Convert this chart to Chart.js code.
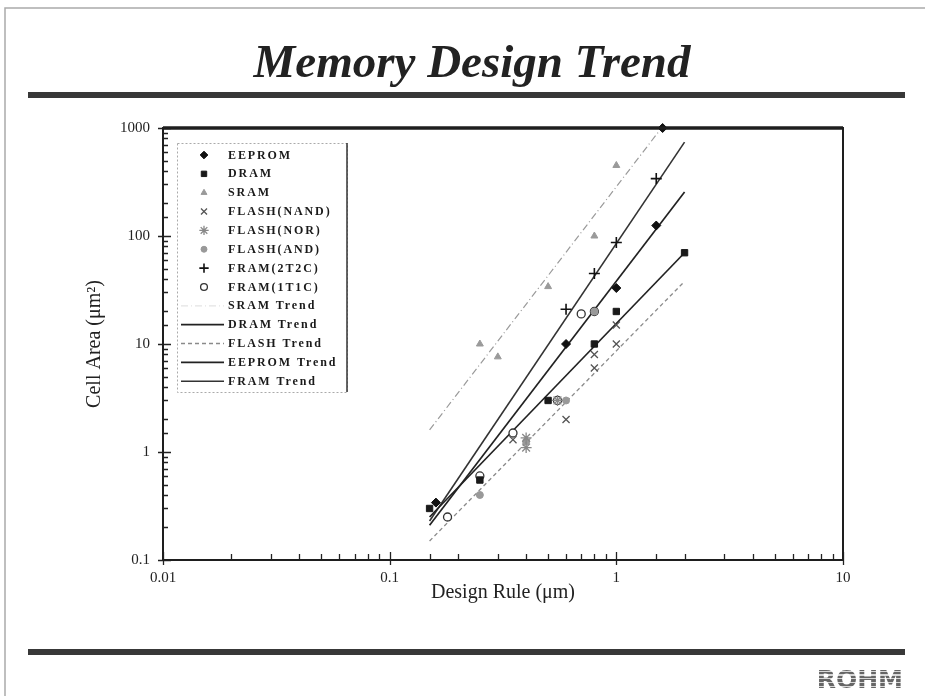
<!DOCTYPE html>
<html>
<head>
<meta charset="utf-8">
<script src="https://cdn.jsdelivr.net/npm/chart.js@4.4.1/dist/chart.umd.min.js"></script>
<style>
  html, body { margin: 0; padding: 0; background: #fff; }
</style>
</head>
<body>
<canvas id="myChart" width="925" height="696"></canvas>
<script>
// data -----------------------------------------------------
const pageTitle = 'Memory Design Trend';
const xTitle = 'Design Rule (\u03bcm)';
const yTitle = 'Cell Area (\u03bcm\u00b2)';
const xTicks = [0.01, 0.1, 1, 10];
const yTicks = [0.1, 1, 10, 100, 1000];

// [design rule, cell area]
const eeprom   = [[0.16, 0.34], [0.6, 10], [1, 33], [1.5, 125], [1.6, 1000]];
const dram     = [[0.15, 0.3], [0.25, 0.55], [0.5, 3], [0.8, 10], [1, 20], [2, 70]];
const sram     = [[0.25, 10], [0.3, 7.6], [0.5, 34], [0.8, 100], [1, 450]];
const nand     = [[0.35, 1.3], [0.6, 2], [0.8, 6], [0.8, 8], [1, 10], [1, 15]];
const nor      = [[0.4, 1.1], [0.4, 1.35], [0.55, 3]];
const andFlash = [[0.25, 0.4], [0.4, 1.25], [0.6, 3], [0.8, 20]];
const fram2t2c = [[0.6, 21], [0.8, 45], [1, 87], [1.5, 340]];
const fram1t1c = [[0.18, 0.25], [0.25, 0.6], [0.35, 1.5], [0.55, 3], [0.7, 19], [0.8, 20]];

// trend lines, end points
const sramTrend   = [[0.15, 1.6], [2, 1900]];
const dramTrend   = [[0.15, 0.25], [2, 70]];
const flashTrend  = [[0.15, 0.15], [2, 38]];
const eepromTrend = [[0.15, 0.21], [2, 255]];
const framTrend   = [[0.15, 0.23], [2, 740]];

const pts = (arr) => arr.map(p => ({ x: p[0], y: p[1] }));
const near = (list, v) => list.find(t => Math.abs(v / t - 1) < 1e-6);

function marker(label, data, style, radius, fill, border, bw) {
  return {
    label: label, data: pts(data), showLine: false, clip: false,
    pointStyle: style, pointRadius: radius, pointHoverRadius: radius,
    backgroundColor: fill, borderColor: border, pointBorderWidth: bw, borderWidth: bw
  };
}
function trend(label, data, color, width, dash) {
  return {
    label: label, data: pts(data), showLine: true, pointRadius: 0,
    borderColor: color, borderWidth: width, borderDash: dash, backgroundColor: color
  };
}

const datasets = [
  marker('EEPROM', eeprom, 'rectRot', 4.5, '#111', '#111', 1),
  marker('DRAM', dram, 'rect', 4.5, '#1a1a1a', '#1a1a1a', 1),
  marker('SRAM', sram, 'triangle', 4, '#9a9a9a', '#9a9a9a', 1),
  marker('FLASH(NAND)', nand, 'crossRot', 5, '#555', '#555', 1.3),
  marker('FLASH(NOR)', nor, 'star', 5.5, '#888', '#888', 1.3),
  marker('FLASH(AND)', andFlash, 'circle', 3.5, '#999', '#999', 1),
  marker('FRAM(2T2C)', fram2t2c, 'cross', 5.5, '#111', '#111', 1.6),
  marker('FRAM(1T1C)', fram1t1c, 'circle', 4, '#fff', '#333', 1.3),
  trend('SRAM Trend', sramTrend, '#9a9a9a', 1.2, [7, 3, 1, 3]),
  trend('DRAM Trend', dramTrend, '#222', 1.7, []),
  trend('FLASH Trend', flashTrend, '#8a8a8a', 1.3, [4, 3]),
  trend('EEPROM Trend', eepromTrend, '#222', 1.7, []),
  trend('FRAM Trend', framTrend, '#333', 1.6, [])
];

// slide decoration, frame, inward ticks, legend ---------------
const slidePlugin = {
  id: 'slide',
  beforeDraw(chart) {
    const c = chart.ctx;
    c.save();
    c.strokeStyle = '#aaa';
    c.lineWidth = 1.5;
    c.beginPath();
    c.moveTo(5, 696); c.lineTo(5, 8); c.lineTo(925, 8);
    c.stroke();

    c.fillStyle = '#222';
    c.font = 'italic bold 47px "Liberation Serif"';
    c.textAlign = 'center';
    c.textBaseline = 'alphabetic';
    c.fillText(pageTitle, 472, 77);

    c.fillStyle = '#383838';
    c.fillRect(28, 92, 877, 6);
    c.fillRect(28, 649, 877, 6);

    // ROHM logo, striped letters
    const g = c.createLinearGradient(0, 668, 0, 691);
    for (let i = 0; i < 6; i++) {
      const s = i / 6;
      g.addColorStop(s, '#666');
      g.addColorStop(s + 0.11, '#666');
      g.addColorStop(s + 0.115, '#d8d8d8');
      g.addColorStop(Math.min(s + 0.166, 1), '#d8d8d8');
    }
    c.fillStyle = g;
    c.font = 'bold 25px "DejaVu Sans"';
    c.textAlign = 'right';
    c.textBaseline = 'bottom';
    c.fillText('ROHM', 903, 694);
    c.restore();
  },
  afterDatasetsDraw(chart) {
    const c = chart.ctx, a = chart.chartArea;
    const xs = chart.scales.x, ys = chart.scales.y;
    c.save();
    c.strokeStyle = '#222';
    c.lineWidth = 1.3;
    c.beginPath();
    xs.ticks.forEach(t => {
      const px = Math.round(xs.getPixelForValue(t.value)) + 0.5;
      const major = near(xTicks, t.value);
      c.moveTo(px, a.bottom + (major ? 5 : 0));
      c.lineTo(px, a.bottom - (major ? 8 : 6));
    });
    ys.ticks.forEach(t => {
      const py = Math.round(ys.getPixelForValue(t.value)) + 0.5;
      const major = near(yTicks, t.value);
      c.moveTo(a.left - (major ? 5 : 0), py);
      c.lineTo(a.left + (major ? 8 : 5), py);
    });
    c.stroke();

    // plot frame
    c.lineWidth = 2;
    c.strokeStyle = '#1e1e1e';
    c.strokeRect(a.left, a.top, a.right - a.left, a.bottom - a.top);
    c.lineWidth = 3.5;
    c.beginPath();
    c.moveTo(a.left, a.top); c.lineTo(a.right, a.top);
    c.stroke();

    // legend box
    const bx = 177, by = 143, bw = 170, bh = 249;
    c.fillStyle = '#fff';
    c.fillRect(bx, by, bw, bh);
    c.lineWidth = 1;
    c.strokeStyle = '#aaa';
    c.setLineDash([2, 2]);
    c.strokeRect(bx + 0.5, by + 0.5, bw, bh);
    c.setLineDash([]);
    c.strokeStyle = '#333';
    c.lineWidth = 1.5;
    c.beginPath(); c.moveTo(bx + bw, by); c.lineTo(bx + bw, by + bh); c.stroke();

    const drawPoint = Chart.helpers && Chart.helpers.drawPoint;
    c.font = 'bold 12px "Liberation Serif"';
    c.letterSpacing = '1.9px';
    c.textAlign = 'left';
    c.textBaseline = 'middle';
    chart.data.datasets.forEach((ds, i) => {
      const y = 155 + i * 18.85;
      if (ds.showLine) {
        c.strokeStyle = ds.label === 'SRAM Trend' ? '#e4e4e4' : ds.borderColor;
        c.lineWidth = ds.borderWidth;
        c.setLineDash(ds.borderDash || []);
        c.beginPath(); c.moveTo(181, y); c.lineTo(224, y); c.stroke();
        c.setLineDash([]);
      } else if (drawPoint) {
        c.fillStyle = ds.backgroundColor;
        c.strokeStyle = ds.borderColor;
        c.lineWidth = ds.pointBorderWidth;
        drawPoint(c, { pointStyle: ds.pointStyle, radius: ds.pointRadius * 0.85,
          rotation: 0, borderWidth: ds.pointBorderWidth }, 204, y);
      }
      c.fillStyle = '#1a1a1a';
      c.fillText(ds.label, 228, y + 0.5);
    });
    c.restore();
  }
};

// grafico --------------------------------------
var ctx = document.getElementById('myChart').getContext('2d');
var chart = new Chart(ctx, {
  type: 'scatter',
  data: { datasets: datasets },
  plugins: [slidePlugin],
  options: {
    responsive: false,
    animation: false,
    layout: { padding: { left: 55, right: 82, top: 128, bottom: 76 } },
    plugins: { legend: { display: false }, tooltip: { enabled: false } },
    scales: {
      x: {
        type: 'logarithmic', min: 0.01, max: 10,
        grid: { display: false, drawTicks: false },
        border: { display: false },
        afterFit: (s) => { s.height = 60; },
        ticks: {
          autoSkip: false, maxRotation: 0, padding: 9, color: '#222',
          font: { family: '"Liberation Serif"', size: 15 },
          callback: (v) => { const t = near(xTicks, v); return t ? String(t) : ''; }
        },
        title: {
          display: true, text: xTitle, color: '#222',
          font: { family: '"Liberation Serif"', size: 20 },
          padding: { top: 0, bottom: 15 }
        }
      },
      y: {
        type: 'logarithmic', min: 0.1, max: 1000,
        grid: { display: false, drawTicks: false },
        border: { display: false },
        afterFit: (s) => { s.width = 108; },
        ticks: {
          autoSkip: false, padding: 13, color: '#222',
          font: { family: '"Liberation Serif"', size: 15 },
          callback: (v) => { const t = near(yTicks, v); return t ? String(t) : ''; }
        },
        title: {
          display: true, text: yTitle, color: '#222',
          font: { family: '"Liberation Serif"', size: 20 },
          padding: { top: 28, bottom: 0 }
        }
      }
    }
  }
});
</script>
</body>
</html>
